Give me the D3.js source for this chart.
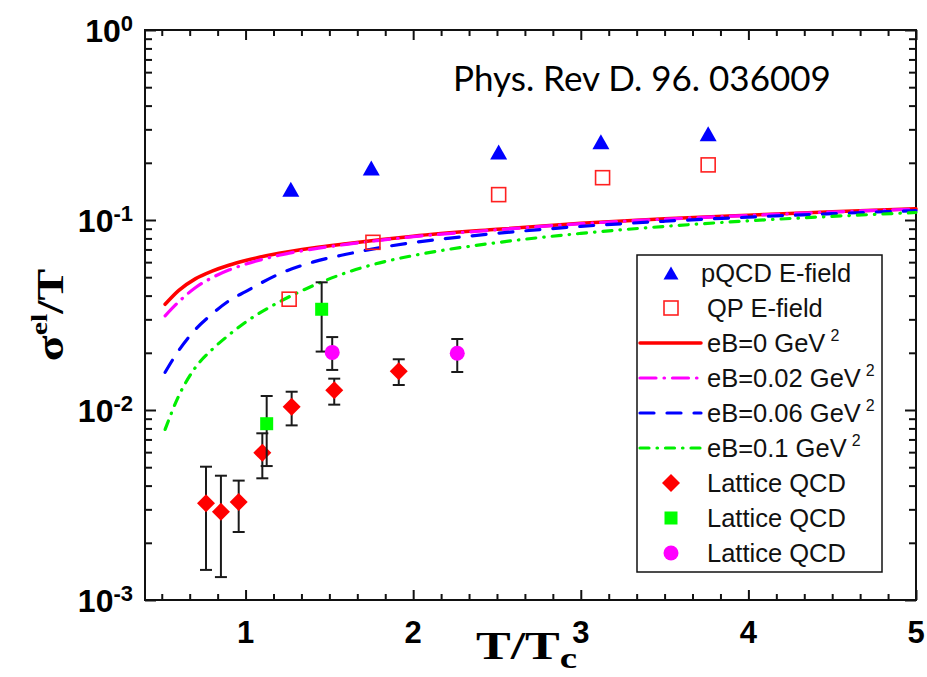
<!DOCTYPE html>
<html>
<head>
<meta charset="utf-8">
<script src="https://cdn.jsdelivr.net/npm/d3@7"></script>
<style>
  body { margin: 0; background: #fff; }
  svg { display: block; }
</style>
</head>
<body>
<svg id="chart" width="927" height="677"></svg>
<script>
// ---- data -----------------------------------------------------------
// T/Tc grid for the model curves
const curveT  = [0.52, 0.6, 0.7, 0.8, 0.9, 1.0, 1.2, 1.4, 1.6, 1.8, 2.0, 2.5, 3.0, 3.5, 4.0, 4.5, 5.0];
// sigma_el / T for each magnetic field strength
const eB0   = [0.0360, 0.0425, 0.0490, 0.0538, 0.0578, 0.0612, 0.0668, 0.0712, 0.0750, 0.0787, 0.0822, 0.0893, 0.0960, 0.1015, 0.1060, 0.1105, 0.1145];
const eB002 = [0.0313, 0.0370, 0.0440, 0.0497, 0.0545, 0.0585, 0.0652, 0.0703, 0.0744, 0.0782, 0.0817, 0.0888, 0.0956, 0.1011, 0.1057, 0.1102, 0.1142];
const eB006 = [0.0158, 0.0205, 0.0265, 0.0320, 0.0375, 0.0420, 0.0520, 0.0600, 0.0660, 0.0715, 0.0760, 0.0850, 0.0925, 0.0985, 0.1035, 0.1080, 0.1120];
const eB01  = [0.0079, 0.0118, 0.0167, 0.0208, 0.0248, 0.0290, 0.0370, 0.0450, 0.0528, 0.0595, 0.0650, 0.0760, 0.0850, 0.0925, 0.0990, 0.1045, 0.1095];

// E-field estimates
const pqcdT   = [1.27, 1.75, 2.51, 3.12, 3.76];
const pqcdVal = [0.145, 0.188, 0.228, 0.258, 0.284];
const qpT     = [1.26, 1.76, 2.51, 3.13, 3.76];
const qpVal   = [0.0383, 0.0763, 0.136, 0.167, 0.195];

// Lattice QCD results with error bars
const latDiamondT   = [0.764, 0.853, 0.959, 1.100, 1.275, 1.529, 1.914];
const latDiamondVal = [0.00323, 0.00291, 0.00328, 0.00596, 0.0104, 0.0127, 0.0160];
const latDiamondHi  = [0.00503, 0.00451, 0.00425, 0.00754, 0.01248, 0.01462, 0.01849];
const latDiamondLo  = [0.00144, 0.00132, 0.00228, 0.00437, 0.0083, 0.01067, 0.01354];

const latSquareT   = [1.126, 1.454];
const latSquareVal = [0.00847, 0.0339];
const latSquareHi  = [0.01185, 0.0470];
const latSquareLo  = [0.00507, 0.0203];

const latCircleT   = [1.517, 2.263];
const latCircleVal = [0.0201, 0.0199];
const latCircleHi  = [0.0242, 0.02364];
const latCircleLo  = [0.01625, 0.01585];

// axis ticks
const xMajor = [1, 2, 3, 4, 5];
const yMajorExp = [-3, -2, -1, 0];

// legend text
const legendLabels = ["pQCD E-field", "QP E-field", "eB=0 GeV", "eB=0.02 GeV", "eB=0.06 GeV", "eB=0.1 GeV",
                      "Lattice QCD", "Lattice QCD", "Lattice QCD"];

// ---- layout ---------------------------------------------------------
const svg = d3.select("#chart");
const L = 145, R = 916, T = 30, B = 600;
const x = d3.scaleLinear().domain([0.4, 5]).range([L, R]);
const y = d3.scaleLog().domain([1e-3, 1]).range([B, T]);

const zip = (xs, ys) => xs.map((v, i) => [v, ys[i]]);

// ---- axes (ticks point inward on all four sides) ---------------------
const xMinor = d3.range(0.5, 5, 1 / 6).filter(v => Math.abs(v - Math.round(v)) > 1e-6);
const yMinor = [];
yMajorExp.slice(0, -1).forEach(e => { for (let k = 2; k <= 9; k++) yMinor.push(k * Math.pow(10, e)); });
const yMajor = yMajorExp.map(e => Math.pow(10, e));

function styleAxis(g) {
  g.selectAll("path.domain").remove();
  g.selectAll("line").attr("stroke", "#111").attr("stroke-width", 2);
  g.selectAll("text").remove();
}
const axes = svg.append("g");
axes.append("g").attr("transform", `translate(0,${B})`)
  .call(d3.axisBottom(x).tickValues(xMajor).tickSize(-10)).call(styleAxis);
axes.append("g").attr("transform", `translate(0,${B})`)
  .call(d3.axisBottom(x).tickValues(xMinor).tickSize(-6)).call(styleAxis);
axes.append("g").attr("transform", `translate(0,${T})`)
  .call(d3.axisTop(x).tickValues(xMajor).tickSize(-10)).call(styleAxis);
axes.append("g").attr("transform", `translate(0,${T})`)
  .call(d3.axisTop(x).tickValues(xMinor).tickSize(-6)).call(styleAxis);
axes.append("g").attr("transform", `translate(${L},0)`)
  .call(d3.axisLeft(y).tickValues(yMajor).tickSize(-11)).call(styleAxis);
axes.append("g").attr("transform", `translate(${L},0)`)
  .call(d3.axisLeft(y).tickValues(yMinor).tickSize(-7)).call(styleAxis);
axes.append("g").attr("transform", `translate(${R},0)`)
  .call(d3.axisRight(y).tickValues(yMajor).tickSize(-11)).call(styleAxis);
axes.append("g").attr("transform", `translate(${R},0)`)
  .call(d3.axisRight(y).tickValues(yMinor).tickSize(-7)).call(styleAxis);

// frame
svg.append("rect").attr("x", L).attr("y", T).attr("width", R - L).attr("height", B - T)
  .attr("fill", "none").attr("stroke", "#111").attr("stroke-width", 2);

// tick labels
const tickFont = "'Liberation Sans', Arial, sans-serif";
svg.append("g").selectAll("text").data(xMajor).join("text")
  .attr("x", d => x(d)).attr("y", B + 43)
  .attr("text-anchor", "middle")
  .attr("font-family", tickFont).attr("font-weight", "bold").attr("font-size", 31)
  .text(d => d);

const yLab = svg.append("g").selectAll("text").data(yMajorExp).join("text")
  .attr("x", 133).attr("y", d => y(Math.pow(10, d)) + 12)
  .attr("text-anchor", "end")
  .attr("font-family", tickFont).attr("font-weight", "bold");
yLab.append("tspan").attr("font-size", 32).text("10");
yLab.append("tspan").attr("font-size", 22).attr("dy", -11).text(d => d === 0 ? "0" : "-" + Math.abs(d));

// axis titles
const serif = "'Liberation Serif', 'Times New Roman', serif";
const xt = svg.append("text")
  .attr("transform", `translate(${(L + R) / 2 - 4},659) scale(1.3,1)`)
  .attr("text-anchor", "middle")
  .attr("font-family", serif).attr("font-weight", "bold").attr("font-size", 40);
xt.append("tspan").text("T/T");
xt.append("tspan").attr("font-size", 30).attr("dy", 9).text("c");

const yt = svg.append("text")
  .attr("transform", `translate(63,${(T + B) / 2}) rotate(-90) scale(1.25,1)`)
  .attr("text-anchor", "middle")
  .attr("font-family", serif).attr("font-weight", "bold").attr("font-size", 38);
yt.append("tspan").text("σ");
yt.append("tspan").attr("font-size", 24).attr("dy", -16).text("el");
yt.append("tspan").attr("dy", 16).text("/T");

// reference note
svg.append("text").attr("x", 453).attr("y", 91)
  .attr("font-family", "Lato, 'Open Sans', sans-serif").attr("font-size", 35)
  .attr("fill", "#000")
  .text("Phys. Rev D. 96. 036009");

// ---- curves ---------------------------------------------------------
const lineGen = d3.line().x(d => x(d[0])).y(d => y(d[1])).curve(d3.curveMonotoneX);
const curveStyles = [
  { data: eB0,   color: "#ff0000", dash: null,            width: 3.5 },
  { data: eB002, color: "#ff00ff", dash: "16,8,0.5,8",   width: 3.2 },
  { data: eB006, color: "#0000ff", dash: "14,13",        width: 3.2 },
  { data: eB01,  color: "#00ee00", dash: "9,8,0.5,8",    width: 3.2 }
];
const curves = svg.append("g");
curveStyles.forEach(c => {
  curves.append("path").datum(zip(curveT, c.data))
    .attr("d", lineGen)
    .attr("fill", "none").attr("stroke", c.color).attr("stroke-width", c.width)
    .attr("stroke-linecap", "round")
    .attr("stroke-dasharray", c.dash);
});

// ---- markers --------------------------------------------------------
const tri = (cx, cy) => `M${cx - 8.5},${cy + 7.5}L${cx + 8.5},${cy + 7.5}L${cx},${cy - 7.5}Z`;
const diamond = (cx, cy) => `M${cx},${cy - 9}L${cx + 9},${cy}L${cx},${cy + 9}L${cx - 9},${cy}Z`;

function errorBars(g, xs, vals, hi, lo) {
  const pts = xs.map((v, i) => ({ x: v, hi: hi[i], lo: lo[i] }));
  const eb = g.append("g").attr("stroke", "#1a1a1a").attr("stroke-width", 2);
  eb.selectAll(".v").data(pts).join("line")
    .attr("x1", d => x(d.x)).attr("x2", d => x(d.x)).attr("y1", d => y(d.hi)).attr("y2", d => y(d.lo));
  eb.selectAll(".t").data(pts).join("line")
    .attr("x1", d => x(d.x) - 6).attr("x2", d => x(d.x) + 6).attr("y1", d => y(d.hi)).attr("y2", d => y(d.hi));
  eb.selectAll(".b").data(pts).join("line")
    .attr("x1", d => x(d.x) - 6).attr("x2", d => x(d.x) + 6).attr("y1", d => y(d.lo)).attr("y2", d => y(d.lo));
}

const marks = svg.append("g");
// pQCD triangles
marks.append("g").selectAll("path").data(zip(pqcdT, pqcdVal)).join("path")
  .attr("d", d => tri(x(d[0]), y(d[1]))).attr("fill", "#0000ff");
// quasiparticle open squares
marks.append("g").selectAll("rect").data(zip(qpT, qpVal)).join("rect")
  .attr("x", d => x(d[0]) - 7).attr("y", d => y(d[1]) - 7).attr("width", 14).attr("height", 14)
  .attr("fill", "none").attr("stroke", "#ff2020").attr("stroke-width", 1.6);
// lattice diamonds
errorBars(marks, latDiamondT, latDiamondVal, latDiamondHi, latDiamondLo);
marks.append("g").selectAll("path").data(zip(latDiamondT, latDiamondVal)).join("path")
  .attr("d", d => diamond(x(d[0]), y(d[1]))).attr("fill", "#ff0000");
// lattice squares
errorBars(marks, latSquareT, latSquareVal, latSquareHi, latSquareLo);
marks.append("g").selectAll("rect").data(zip(latSquareT, latSquareVal)).join("rect")
  .attr("x", d => x(d[0]) - 6.5).attr("y", d => y(d[1]) - 6.5).attr("width", 13).attr("height", 13)
  .attr("fill", "#00ff00");
// lattice circles
errorBars(marks, latCircleT, latCircleVal, latCircleHi, latCircleLo);
marks.append("g").selectAll("circle").data(zip(latCircleT, latCircleVal)).join("circle")
  .attr("cx", d => x(d[0])).attr("cy", d => y(d[1])).attr("r", 7.5)
  .attr("fill", "#ff00ff");

// ---- legend ---------------------------------------------------------
const lg = svg.append("g");
lg.append("rect").attr("x", 637).attr("y", 255).attr("width", 245).attr("height", 317)
  .attr("fill", "#fff").attr("stroke", "#111").attr("stroke-width", 1.5);
const rowY = i => 273 + i * 35;
const symX = 671, lineX0 = 640, lineX1 = 701;

lg.append("path").attr("d", tri(symX, rowY(0))).attr("fill", "#0000ff").attr("transform", `translate(${symX},${rowY(0)}) scale(0.88) translate(${-symX},${-rowY(0)})`);
lg.append("rect").attr("x", symX - 7).attr("y", rowY(1) - 7).attr("width", 14).attr("height", 14)
  .attr("fill", "none").attr("stroke", "#ff2020").attr("stroke-width", 1.6);
curveStyles.forEach((c, k) => {
  lg.append("line").attr("x1", lineX0).attr("x2", lineX1).attr("y1", rowY(2 + k)).attr("y2", rowY(2 + k))
    .attr("stroke", c.color).attr("stroke-width", c.width).attr("stroke-linecap", "round")
    .attr("stroke-dasharray", c.dash);
});
lg.append("path").attr("d", diamond(symX, rowY(6))).attr("fill", "#ff0000");
lg.append("rect").attr("x", symX - 6.5).attr("y", rowY(7) - 6.5).attr("width", 13).attr("height", 13).attr("fill", "#00ff00");
lg.append("circle").attr("cx", symX).attr("cy", rowY(8)).attr("r", 7.5).attr("fill", "#ff00ff");

const lt = lg.selectAll("text.lab").data(legendLabels).join("text")
  .attr("class", "lab")
  .attr("x", (d, i) => i === 0 ? 701 : 707)
  .attr("y", (d, i) => rowY(i) + 9)
  .attr("font-family", tickFont).attr("font-size", 25.5).attr("fill", "#111");
lt.append("tspan").text(d => d);
lt.filter((d, i) => i >= 2 && i <= 5).append("tspan")
  .attr("dx", 5).attr("dy", -11).attr("font-size", 16).text("2");
</script>
</body>
</html>
